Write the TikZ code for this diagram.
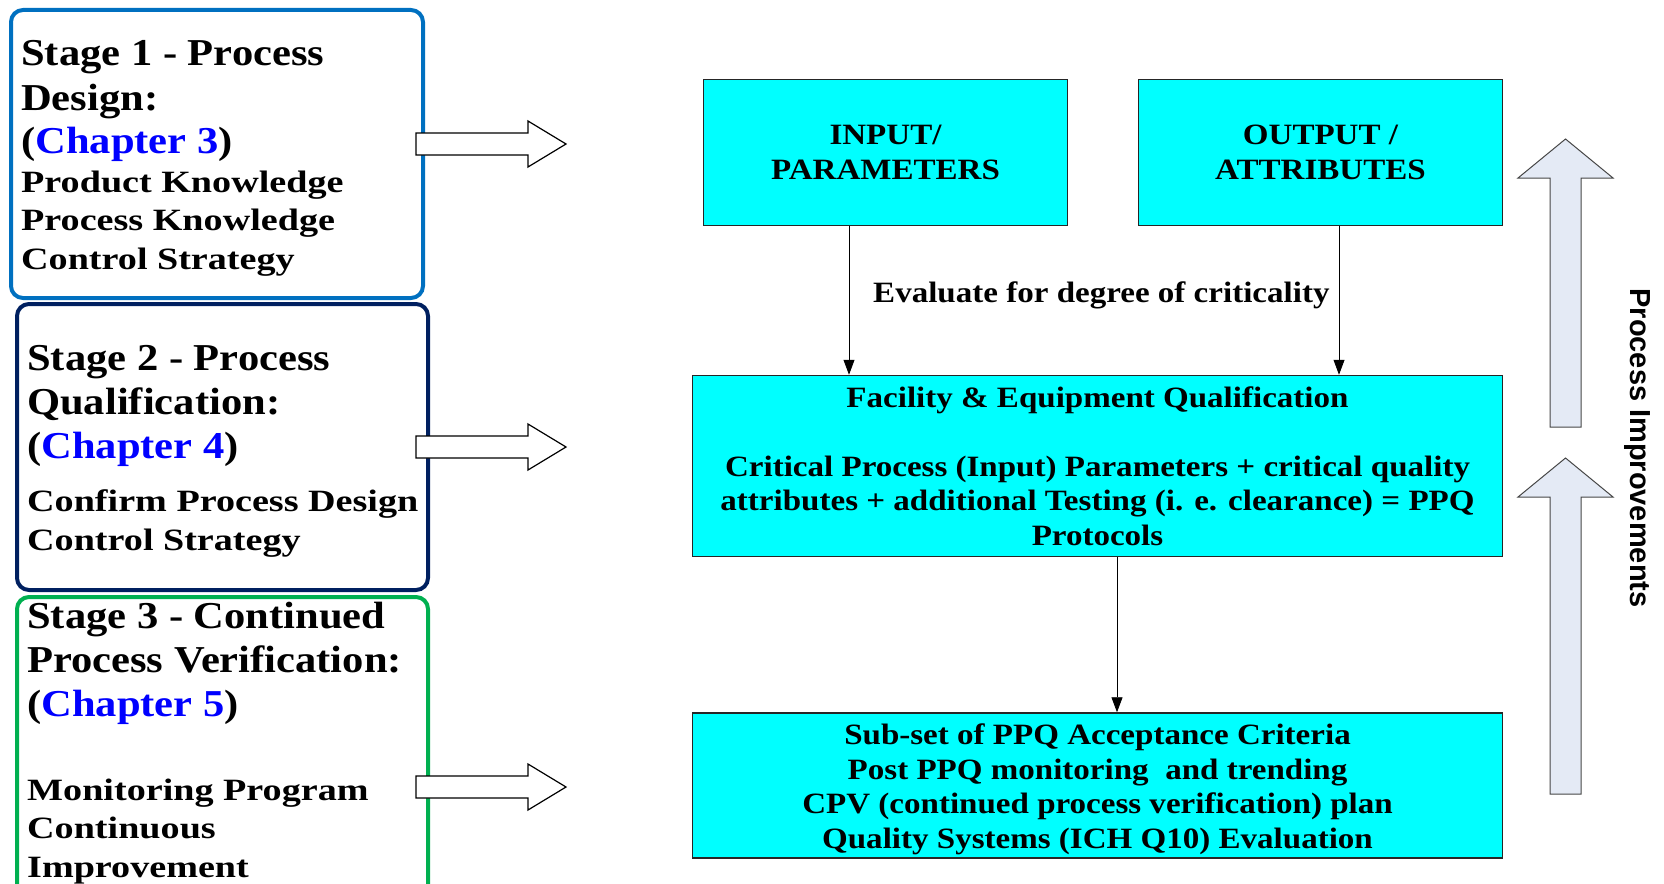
\documentclass[tikz,border=0pt]{standalone}
\usepackage{fontspec}
\setmainfont[FakeStretch=1.12]{Liberation Serif}
\newfontfamily\bodyserif[FakeStretch=1.23]{Liberation Serif}
\newfontfamily\sidesans{Liberation Sans}
\usepackage{xcolor}
\usetikzlibrary{arrows.meta,positioning,calc}

\definecolor{stageblue}{RGB}{0,112,192}
\definecolor{stagenavy}{RGB}{0,32,96}
\definecolor{stagegreen}{RGB}{0,176,80}
\definecolor{chapblue}{RGB}{0,0,255}
\definecolor{boxcyan}{RGB}{0,255,255}
\definecolor{upfill}{RGB}{228,234,245}
\definecolor{upline}{RGB}{70,70,70}

\newcommand{\headfont}{\spaceskip=0pt\xspaceskip=0pt\relax\bfseries\fontsize{38}{44}\selectfont}
\newcommand{\listfont}{\bodyserif\bfseries\fontsize{31}{38.5}\selectfont}

\begin{document}
\begin{tikzpicture}[x=1pt,y=-1pt,
    stagebox/.style={line width=4pt, rounded corners=12pt},
    stagetext/.style={anchor=base west, inner sep=0pt, text width=405pt, align=left},
    cyanbox/.style={draw=black!85, line width=1.5pt, fill=boxcyan, inner sep=0pt, align=center,
        font=\bfseries\fontsize{29.5}{34.5}\selectfont},
    blockarrow/.style={draw=black, line width=1.2pt, fill=white},
    uparrow/.style={draw=upline, line width=1pt, fill=upfill},
    conn/.style={line width=0.8pt, -{Triangle[length=15pt,width=11pt]}}]
    \useasboundingbox (0,0) rectangle (1664,883);

    % Stage boxes
    \draw[stagebox, stageblue] (11,10) rectangle (423,298);
    \draw[stagebox, stagenavy] (17,304) rectangle (428,590);
    \draw[stagebox, stagegreen] (17,597) rectangle (428,900);

    \node[stagetext] (s1) at (21,66) {\headfont Stage 1 - Process\\ Design:\\ (\textcolor{chapblue}{Chapter 3})\par
        \listfont Product Knowledge\\ Process Knowledge\\ Control Strategy\par};
    \node[stagetext] (s2) at (27,370) {\headfont Stage 2 - Process\\ Qualification:\\ (\textcolor{chapblue}{Chapter 4})\par
        \vspace{15pt}\listfont Confirm Process Design\\ Control Strategy\par};
    \node[stagetext] (s3) at (27,628) {\headfont Stage 3 - Continued\\ Process Verification:\\ (\textcolor{chapblue}{Chapter 5})\par
        \vspace{45.5pt}\listfont Monitoring Program\\ Continuous\\ Improvement\par};

    % Arrows out of the stages
    \foreach \y in {144,447,787}
        \draw[blockarrow] (416,\y-11) -- (528,\y-11) -- (528,\y-23) -- (566,\y) -- (528,\y+23) -- (528,\y+11) -- (416,\y+11) -- cycle;

    % Flow boxes
    \node[cyanbox, minimum width=364pt, minimum height=146pt] (inp) at (885.5,152.5) {INPUT/\\PARAMETERS};
    \node[cyanbox, minimum width=364pt, minimum height=146pt] (outp) at (1320.5,152.5) {OUTPUT /\\ATTRIBUTES};
    \node[cyanbox, minimum width=810pt, minimum height=181pt] (fac) at (1097.5,466) {Facility \& Equipment Qualification\\[34.5pt]
        Critical Process (Input) Parameters + critical quality\\
        attributes + additional Testing (i. e. clearance) = PPQ\\
        Protocols};
    \node[cyanbox, minimum width=810pt, minimum height=145pt] (cpv) at (1097.5,785.5) {\rule{0pt}{28pt}Sub-set of PPQ Acceptance Criteria\\
        Post PPQ monitoring~ and trending\\
        CPV (continued process verification) plan\\
        Quality Systems (ICH Q10) Evaluation};
    \node[anchor=base west, inner sep=0pt, font=\bfseries\fontsize{29.5}{34.5}\selectfont] (eval) at (873,302) {Evaluate for degree of criticality};

    \coordinate (c1) at (849,0);
    \coordinate (c2) at (1339,0);
    \coordinate (c3) at (1117,0);
    \draw[conn] (inp.south -| c1) -- (fac.north -| c1);
    \draw[conn] (outp.south -| c2) -- (fac.north -| c2);
    \draw[conn] (fac.south -| c3) -- (cpv.north -| c3);

    % Improvement arrows
    \foreach \t/\b in {139/427,458/794}
        \draw[uparrow] (1550,\b) -- (1550,\t+39) -- (1518,\t+39) -- (1565.5,\t) -- (1613,\t+39) -- (1581,\t+39) -- (1581,\b) -- cycle;
    \node[rotate=-90, inner sep=0pt, font=\sidesans\bfseries\fontsize{29}{34}\selectfont] (impr) at (1637,448) {Process Improvements};
\end{tikzpicture}
\end{document}
